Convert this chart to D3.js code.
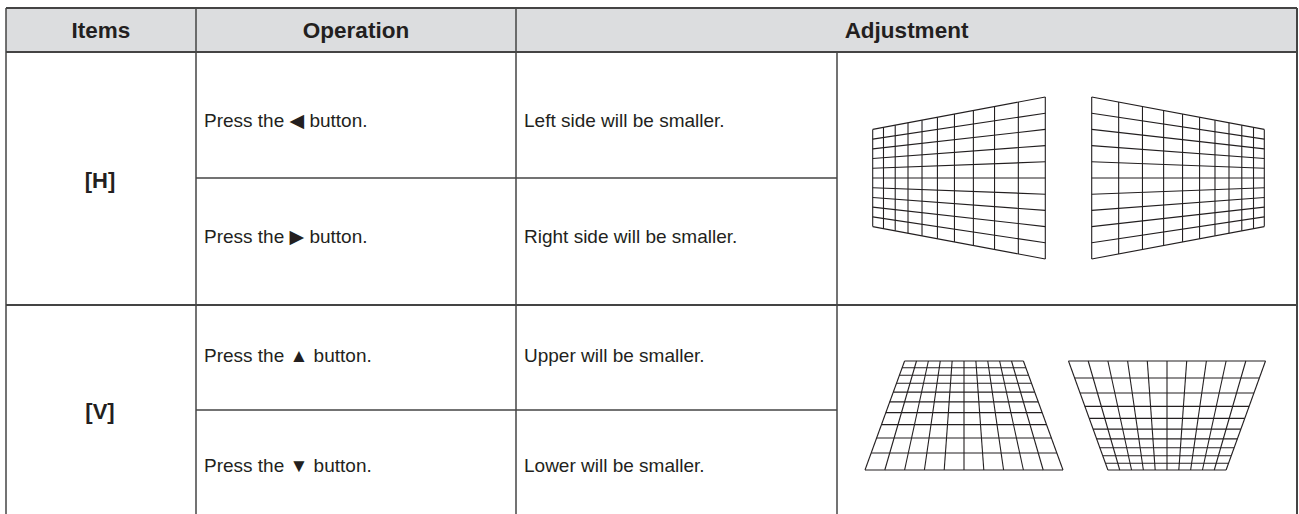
<!DOCTYPE html>
<html>
<head>
<meta charset="utf-8">
<script src="https://cdn.jsdelivr.net/npm/d3@7"></script>
<style>
  html, body { margin: 0; padding: 0; background: #fff; }
  svg { display: block; }
  text { font-family: "Liberation Sans", Arial, "DejaVu Sans", sans-serif; fill: #231f20; }
</style>
</head>
<body>
<svg id="chart" width="1299" height="514"></svg>
<script>
// ---------- data ----------
const headers = ["Items", "Operation", "Adjustment"];
const items = ["[H]", "[V]"];
const operations = ["Press the \u25C0 button.", "Press the \u25B6 button.", "Press the \u25B2 button.", "Press the \u25BC button."];
const results = ["Left side will be smaller.", "Right side will be smaller.", "Upper will be smaller.", "Lower will be smaller."];
const gridItems = ["[H]", "[H]", "[V]", "[V]"];
const gridSmallSides = ["left", "right", "top", "bottom"];
const gridDivisions = 10;
const keystoneRatio = 0.6;

// ---------- layout ----------
const W = 1299, H = 514;
const colEdges = [6, 196, 516, 837, 1297];
const headerTop = 8, headerBottom = 52;
const rowEdges = [52, 305, 514];       // item rows
const subSplits = [178, 410];          // operation split in each item row
const textOffsets = [58, 55];          // text distance from the split line
const lineColor = "#444";
const headFont = 22.5, itemFont = 22, bodyFont = 19;

const svg = d3.select("#chart");
svg.append("rect").attr("width", W).attr("height", H).attr("fill", "#fff");

// header background
svg.append("rect")
  .attr("x", colEdges[0]).attr("y", headerTop)
  .attr("width", colEdges[4] - colEdges[0]).attr("height", headerBottom - headerTop)
  .attr("fill", "#dcdddf");

// header texts
const headerSpans = [[0, 1], [1, 2], [2, 4]];
svg.selectAll("text.hdr").data(headers).join("text")
  .attr("class", "hdr")
  .attr("x", (d, i) => (colEdges[headerSpans[i][0]] + colEdges[headerSpans[i][1]]) / 2)
  .attr("y", (headerTop + headerBottom) / 2 + 0.36 * headFont)
  .attr("text-anchor", "middle")
  .attr("font-weight", "bold")
  .attr("font-size", headFont)
  .text(d => d);

// item texts
svg.selectAll("text.item").data(items).join("text")
  .attr("class", "item")
  .attr("x", (colEdges[0] + colEdges[1]) / 2 - 1)
  .attr("y", (d, i) => (rowEdges[i] + rowEdges[i + 1]) / 2 + 0.36 * itemFont + 2)
  .attr("text-anchor", "middle")
  .attr("font-weight", "bold")
  .attr("font-size", itemFont)
  .text(d => d);

// sub row text centres
const subCenters = [];
items.forEach((it, i) => {
  subCenters.push(subSplits[i] - textOffsets[i]);
  subCenters.push(subSplits[i] + textOffsets[i]);
});

svg.selectAll("text.op").data(operations).join("text")
  .attr("class", "op")
  .attr("x", colEdges[1] + 8)
  .attr("y", (d, i) => subCenters[i] + 0.36 * bodyFont)
  .attr("font-size", bodyFont)
  .text(d => d);

svg.selectAll("text.res").data(results).join("text")
  .attr("class", "res")
  .attr("x", colEdges[2] + 8)
  .attr("y", (d, i) => subCenters[i] + 0.36 * bodyFont)
  .attr("font-size", bodyFont)
  .text(d => d);

// ---------- table lines ----------
const lines = [];
lines.push([colEdges[0], headerTop, colEdges[4], headerTop, 2]);
lines.push([colEdges[0], headerBottom, colEdges[4], headerBottom, 2]);
rowEdges.slice(1, -1).forEach(y => lines.push([colEdges[0], y, colEdges[4], y, 2]));
subSplits.forEach(y => lines.push([colEdges[1], y, colEdges[3], y, 1.5]));
lines.push([colEdges[0], headerTop, colEdges[0], H, 1.5]);
lines.push([colEdges[1], headerTop, colEdges[1], H, 1.5]);
lines.push([colEdges[2], headerTop, colEdges[2], H, 1.5]);
lines.push([colEdges[3], headerBottom, colEdges[3], H, 1.5]);
lines.push([colEdges[4], headerTop, colEdges[4], H, 2]);

svg.selectAll("line.tbl").data(lines).join("line")
  .attr("class", "tbl")
  .attr("x1", d => d[0]).attr("y1", d => d[1])
  .attr("x2", d => d[2]).attr("y2", d => d[3])
  .attr("stroke", lineColor).attr("stroke-width", d => d[4]);

// ---------- keystone grids ----------
const gridBoxes = {
  left:   {cx: 959,    cy: 178,   w: 172.6, h: 162},
  right:  {cx: 1178,   cy: 178,   w: 172.6, h: 162},
  top:    {cx: 964,    cy: 415.5, w: 198,   h: 109},
  bottom: {cx: 1167,   cy: 415.5, w: 197,   h: 109}
};

function persp(u, r) { return r * u / (1 - (1 - r) * u); }

const gridLayer = svg.append("g");
gridSmallSides.forEach(side => {
  const b = gridBoxes[side];
  const r = keystoneRatio, n = gridDivisions;
  const sx = d3.scaleLinear().domain([0, 1]).range([b.cx - b.w / 2, b.cx + b.w / 2]);
  const sy = d3.scaleLinear().domain([0, 1]).range([b.cy - b.h / 2, b.cy + b.h / 2]);
  const idx = d3.range(n + 1);
  const half = t => (r + (1 - r) * t) / 2;
  const segs = [];
  if (side === "left" || side === "right") {
    const toX = t => side === "left" ? t : 1 - t;
    idx.forEach(i => {
      const t = persp(i / n, r);
      segs.push([sx(toX(t)), sy(0.5 - half(t)), sx(toX(t)), sy(0.5 + half(t))]);
    });
    idx.forEach(j => {
      const v = j / n - 0.5;
      segs.push([sx(toX(0)), sy(0.5 + v * r), sx(toX(1)), sy(0.5 + v)]);
    });
  } else {
    const toY = t => side === "top" ? t : 1 - t;
    idx.forEach(i => {
      const t = persp(i / n, r);
      segs.push([sx(0.5 - half(t)), sy(toY(t)), sx(0.5 + half(t)), sy(toY(t))]);
    });
    idx.forEach(j => {
      const v = j / n - 0.5;
      segs.push([sx(0.5 + v * r), sy(toY(0)), sx(0.5 + v), sy(toY(1))]);
    });
  }
  gridLayer.append("g").selectAll("line").data(segs).join("line")
    .attr("x1", d => d[0]).attr("y1", d => d[1])
    .attr("x2", d => d[2]).attr("y2", d => d[3])
    .attr("stroke", "#231f20").attr("stroke-width", 1.1);
});
</script>
</body>
</html>
